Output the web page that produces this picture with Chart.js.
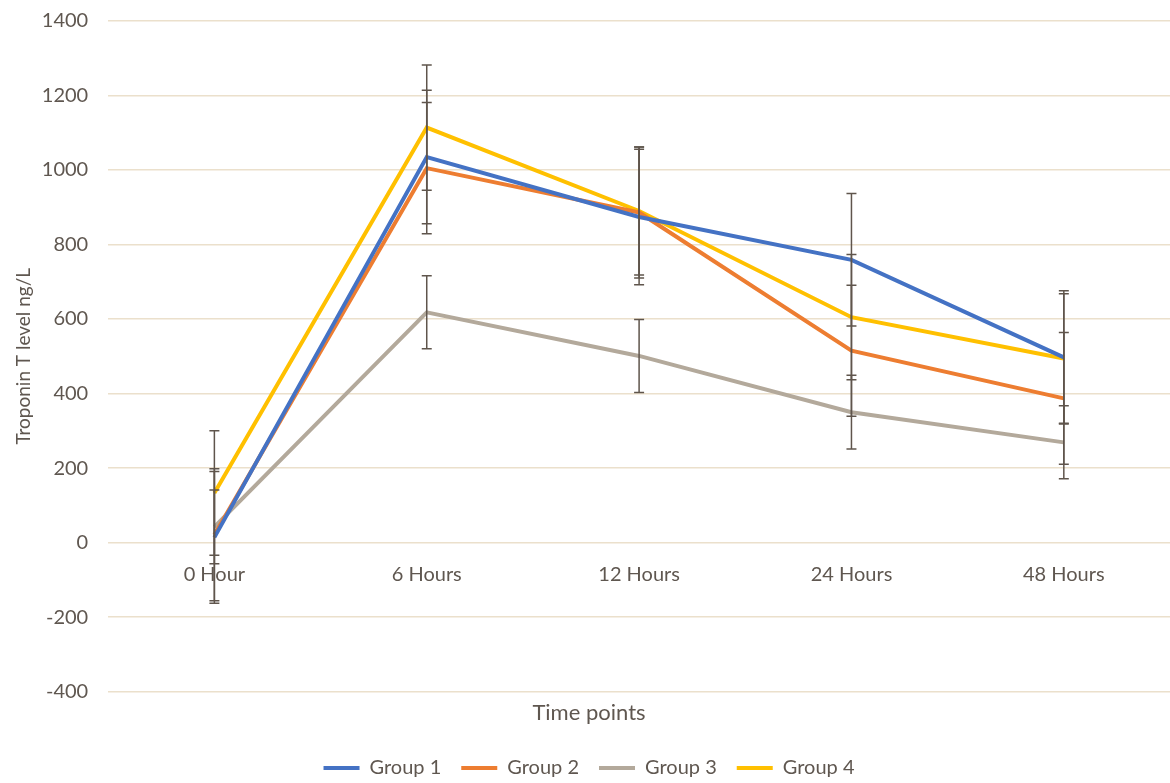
<!DOCTYPE html>
<html>
<head>
<meta charset="utf-8">
<script src="https://cdn.jsdelivr.net/npm/chart.js@4/dist/chart.umd.min.js"></script>
<style>
  html, body { margin: 0; padding: 0; background: #fff; overflow: hidden; height: 783px; }
  #wrap { width: 1170px; height: 794px; margin-top: -11px; }
</style>
</head>
<body>
<div id="wrap"><canvas id="lineChart"></canvas></div>
<script>
Chart.defaults.font.family = 'Lato'
Chart.defaults.font.size = 20
Chart.defaults.color = '#5f5750'

const timePoints = ['0 Hour', '6 Hours', '12 Hours', '24 Hours', '48 Hours'];
const groupNames = ['Group 1', 'Group 2', 'Group 3', 'Group 4'];

const group1 = [14, 1035, 874, 759, 497];
const group2 = [21, 1005, 886, 515, 387];
const group3 = [42, 618, 501, 350, 269];
const group4 = [133, 1114, 890, 605, 494];

// +/- error for each point
const group1Err = [177, 179, 182, 178, 179];
const group2Err = [177, 176, 176, 176, 177];
const group3Err = [99, 98, 98, 99, 98];
const group4Err = [167, 168, 172, 168, 174];

const yTicks = [-400, -200, 0, 200, 400, 600, 800, 1000, 1200, 1400];

const colors = ['#4472c4', '#ed7d31', '#b3a99b', '#ffc000'];
const gridColor = '#ebe0cc';

const errorBars = {
  id: 'errorBars',
  afterDatasetsDraw(chart) {
    const { ctx, scales: { x, y } } = chart;
    ctx.save();
    ctx.strokeStyle = '#5f554c';
    ctx.lineWidth = 1.5;
    chart.data.datasets.forEach((ds) => {
      ds.data.forEach((v, i) => {
        const px = x.getPixelForValue(i);
        const top = y.getPixelForValue(v + ds.errors[i]);
        const bottom = y.getPixelForValue(v - ds.errors[i]);
        ctx.beginPath();
        ctx.moveTo(px, top);
        ctx.lineTo(px, bottom);
        ctx.moveTo(px - 5, top);
        ctx.lineTo(px + 5, top);
        ctx.moveTo(px - 5, bottom);
        ctx.lineTo(px + 5, bottom);
        ctx.stroke();
      });
    });
    ctx.restore();
  }
};

const series = [group1, group2, group3, group4];
const errs = [group1Err, group2Err, group3Err, group4Err];

new Chart(document.getElementById('lineChart'), {
  type: 'line',
  data: {
    labels: timePoints,
    datasets: series.map((d, i) => ({
      label: groupNames[i],
      data: d,
      errors: errs[i],
      borderColor: colors[i],
      backgroundColor: colors[i],
      borderWidth: 4,
      pointRadius: 0,
      pointHoverRadius: 0,
      tension: 0,
      pointStyle: 'line'
    }))
  },
  options: {
    responsive: true,
    maintainAspectRatio: false,
    animation: false,
    layout: { padding: { left: 8, right: 0, top: 2, bottom: -5 } },
    plugins: {
      legend: {
        position: 'bottom',
        labels: {
          usePointStyle: true,
          pointStyleWidth: 36,
          padding: 20,
          font: { size: 20 }
        }
      },
      title: {
        display: true,
        text: 'Time points',
        position: 'bottom',
        weight: 500,
        font: { size: 22, weight: 'normal' },
        padding: { top: 8, bottom: 12 }
      },
      tooltip: { enabled: false }
    },
    scales: {
      x: {
        position: { y: 0 },
        offset: true,
        grid: { display: false, drawTicks: false },
        border: { display: false },
        ticks: { padding: 20, font: { size: 20 } }
      },
      y: {
        min: -400,
        max: 1400,
        afterBuildTicks: (axis) => { axis.ticks = yTicks.map((v) => ({ value: v })); },
        grid: { color: gridColor, lineWidth: 1.5, drawTicks: false },
        border: { display: false },
        ticks: { padding: 20, font: { size: 20 }, callback: (value) => String(value) },
        title: {
          display: true,
          text: 'Troponin T level ng/L',
          font: { size: 19 },
          padding: { top: 4, bottom: -13 }
        }
      }
    }
  },
  plugins: [errorBars]
});
</script>
</body>
</html>
